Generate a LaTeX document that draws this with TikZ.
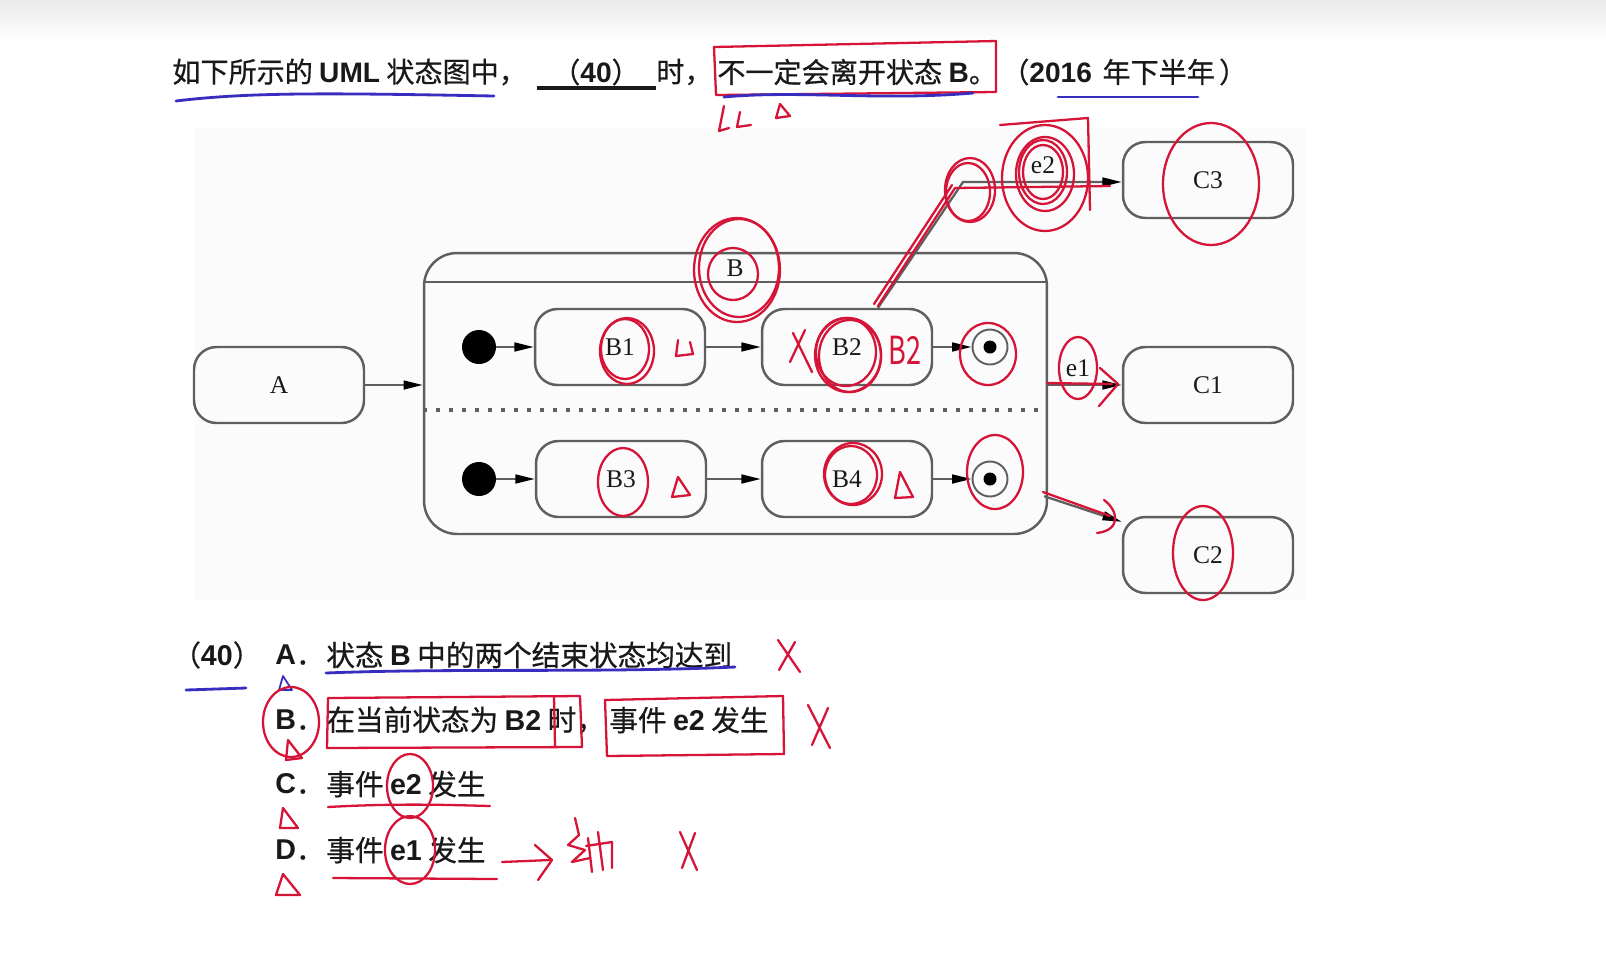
\documentclass[tikz,border=0pt]{standalone}
\usepackage{fontspec}
\setmainfont{Liberation Serif}
\newfontfamily\cjk{Noto Sans CJK SC}
\newfontfamily\cjkm[FakeBold=0.6]{Noto Sans CJK SC}
\newfontfamily\latf{Liberation Sans}
\newcommand\lb[1]{{\latf\bfseries #1}}
\usetikzlibrary{arrows.meta,calc}
\definecolor{diag}{RGB}{95,95,95}
\definecolor{txt}{RGB}{25,25,25}
\definecolor{pen}{RGB}{214,20,55}
\definecolor{bpen}{RGB}{55,45,190}
\definecolor{paper}{RGB}{251,251,251}
\newcommand\dlblfont{\fontsize{14.5}{17}\selectfont}
\newcommand\ttlfont{\cjkm\fontsize{16}{19}\selectfont}
\newcommand\optfont{\cjkm\fontsize{16.3}{19}\selectfont}
\begin{document}
\begin{tikzpicture}[x=0.02cm,y=-0.02cm,
  state/.style={draw=diag,line width=1.4pt,rounded corners=0.45cm,minimum width=3.4cm,minimum height=1.52cm,inner sep=0pt,font=\dlblfont,text=txt},
  lbl/.style={inner sep=0pt,font=\dlblfont,text=txt},
  initst/.style={circle,fill=black,minimum size=0.68cm,inner sep=0pt},
  finst/.style={circle,draw=diag,line width=1.1pt,minimum size=0.7cm,inner sep=0pt,
     path picture={\fill[black] (path picture bounding box.center) circle (0.13cm);}},
  tr/.style={draw=diag,line width=1.3pt,-{Triangle[length=11pt,width=5pt,color=black]}},
  tt/.style={inner sep=0pt,font=\ttlfont,text=txt,anchor=west},
  ot/.style={inner sep=0pt,font=\optfont,text=txt,anchor=west},
  pen/.style={draw=pen,line width=1.3pt,line cap=round,line join=round},
  bpen/.style={draw=bpen,line width=1.6pt,line cap=round,line join=round}]
\useasboundingbox (0,0) rectangle (1606,975);
\fill[white] (0,0) rectangle (1606,975);
\foreach \i in {0,...,9} {\fill[black,opacity=0.009] (0,0) rectangle (1606,{40-4*\i});}
\fill[paper] (195,128) rectangle (1305,600);

% ---------- title ----------
\node[tt] (t1) at (172,72) {如下所示的 \lb{UML} 状态图中，};
\node[tt,anchor=center] (t2) at (596,72) {（\lb{40}）};
\draw[txt,line width=1.8pt] (537,88) -- (656,88);
\node[tt] (t3) at (656,72) {时，};
\node[tt] (t4) at (717,72) {不一定会离开状态 \lb{B}。};
\node[tt] (t5) at (1001,72) {（\lb{2016}\hspace{0.15em} 年下半年\hspace{0.15em}）};

% ---------- diagram ----------
\node[state] (A) at (279,385) {A};
\node[draw=diag,line width=1.4pt,rounded corners=0.66cm,minimum width=12.46cm,minimum height=5.62cm,inner sep=0pt] (Bx) at (735.5,393.5) {};
\draw[draw=diag,line width=1.4pt] ($(Bx.north west)+(0,30)$) -- ($(Bx.north east)+(0,30)$);
\node[lbl] (Bl) at (735,268) {B};
\draw[draw=diag,line width=2pt,dash pattern=on 2.2pt off 5.2pt] (Bx.west |- 0,410) -- (Bx.east |- 0,410);

\node[initst] (I1) at (479,347) {};
\node[state] (B1) at (620,347) {B1};
\node[state] (B2) at (847,347) {B2};
\node[finst] (F1) at (990,347) {};
\node[initst] (I2) at (479,479) {};
\node[state] (B3) at (621,479) {B3};
\node[state] (B4) at (847,479) {B4};
\node[finst] (F2) at (990,479) {};

\node[state] (C3) at (1208,180) {C3};
\node[state] (C1) at (1208,385) {C1};
\node[state] (C2) at (1208,555) {C2};

\draw[tr] (A.east) -- (A.east -| Bx.west);
\draw[tr] (I1) -- (B1);
\draw[tr] (B1) -- (B2);
\draw[tr] (B2) -- (F1);
\draw[tr] (I2) -- (B3);
\draw[tr] (B3) -- (B4);
\draw[tr] (B4) -- (F2);
\coordinate (e2c) at (963,182);
\draw[tr] ($(B2.north)+(31,0)$) -- (e2c) -- (e2c -| C3.west);
\node[lbl] (e2) at (1043,165) {e2};
\draw[tr] (Bx.east |- C1) -- (C1.west);
\node[lbl] (e1) at (1078,368) {e1};
\draw[tr] ($(Bx.south east)+(-4,-39)$) -- ($(C2.north west)+(0,6)$);

% ---------- options ----------
\node[ot] (o0) at (172,655) {（\lb{40}）};
\node[ot] (oA) at (275,655) {\lb{A}．};
\node[ot] (oAt) at (326,655) {状态 \lb{B} 中的两个结束状态均达到};
\node[ot] (oB) at (275,720) {\lb{B}．};
\node[ot] (oBt) at (326,720) {在当前状态为 \lb{B2} 时，};
\node[ot] (oBu) at (609,720) {事件 \lb{e2} 发生};
\node[ot] (oC) at (275,784) {\lb{C}．};
\node[ot] (oCt) at (326,784) {事件 \lb{e2} 发生};
\node[ot] (oD) at (275,850) {\lb{D}．};
\node[ot] (oDt) at (326,850) {事件 \lb{e1} 发生};

% ---------- handwritten marks ----------
% title
\draw[pen] (714,47) -- (996,41) -- (996,92) -- (716,95) -- cycle;
\draw[bpen] (176,101) .. controls (250,92) and (330,93) .. (494,96);
\draw[bpen] (724,97) .. controls (800,90) and (880,101) .. (973,93);
\draw[bpen] (1058,97) -- (1198,97);
\draw[pen] (724,106) -- (719,131) -- (729,128);
\draw[pen] (740,112) -- (737,127) -- (751,125);
\draw[pen] (780,104) -- (776,118) -- (790,116) -- cycle;
% diagram
\draw[pen] (733,274) ellipse [x radius=25,y radius=26];
\draw[pen] (737,270) ellipse [x radius=43,y radius=52];
\draw[pen] (739,268) ellipse [x radius=40,y radius=49];
\draw[pen] (627,351) ellipse [x radius=27,y radius=33];
\draw[pen] (625,349) ellipse [x radius=24,y radius=30];
\draw[pen] (678,340) -- (676,356) -- (693,354) -- (690,342);
\draw[pen] (790,362) -- (805,330) (793,333) -- (812,372);
\draw[pen] (848,355) ellipse [x radius=33,y radius=37];
\draw[pen] (846,352) ellipse [x radius=30,y radius=34];
\draw[pen] (850,356) ellipse [x radius=31,y radius=36];
\node[text=pen,inner sep=0pt,xscale=0.7,font=\cjk\fontsize{22}{24}\selectfont] (hwB2) at (905,350) {B2};
\draw[pen] (988,354) ellipse [x radius=28,y radius=31];
\draw[pen] (878,306) -- (955,188) -- (1110,186);
\draw[pen] (874,304) -- (952,185);
\draw[pen] (970,190) ellipse [x radius=25,y radius=32];
\draw[pen] (968,192) ellipse [x radius=22,y radius=29];
\draw[pen] (1043,172) ellipse [x radius=20,y radius=27];
\draw[pen] (1043,172) ellipse [x radius=24,y radius=32];
\draw[pen] (1045,174) ellipse [x radius=29,y radius=37];
\draw[pen] (1045,178) ellipse [x radius=43,y radius=53];
\draw[pen] (1000,125) -- (1088,118) -- (1090,210);
\draw[pen] (1211,184) ellipse [x radius=48,y radius=61];
\draw[pen] (1078,368) ellipse [x radius=19,y radius=31];
\draw[pen] (1047,383) -- (1112,384);
\draw[pen] (1100,368) -- (1118,384) -- (1099,406);
\draw[pen] (623,482) ellipse [x radius=25,y radius=34];
\draw[pen] (678,477) -- (672,497) -- (690,495) -- cycle;
\draw[pen] (853,474) ellipse [x radius=29,y radius=31];
\draw[pen] (851,475) ellipse [x radius=26,y radius=29];
\draw[pen] (900,472) -- (895,498) -- (913,497) -- cycle;
\draw[pen] (995,472) ellipse [x radius=28,y radius=37];
\draw[pen] (1043,492) -- (1110,516);
\draw[pen] (1104,500) .. controls (1118,510) and (1122,530) .. (1097,533);
\draw[pen] (1203,553) ellipse [x radius=30,y radius=47];
% options
\draw[bpen] (326,673) .. controls (450,668) and (600,673) .. (735,667);
\draw[bpen] (186,690) -- (246,688);
\draw[bpen,line width=1pt] (283,676) -- (279,690) -- (292,690) -- cycle;
\draw[pen] (778,640) -- (800,672) (795,642) -- (779,670);
\draw[pen] (291,722) ellipse [x radius=28,y radius=35];
\draw[pen] (288,740) -- (286,760) -- (302,758) -- cycle;
\draw[pen] (328,698) -- (580,696) -- (582,747) -- (327,748) -- cycle;
\draw[pen] (554,696) -- (555,746);
\draw[pen] (605,700) -- (783,696) -- (784,754) -- (607,756) -- cycle;
\draw[pen] (808,705) -- (830,748) (828,708) -- (812,745);
\draw[pen] (410,786) ellipse [x radius=23,y radius=32];
\draw[pen] (328,807) .. controls (400,803) and (450,805) .. (490,806);
\draw[pen] (283,808) -- (280,828) -- (298,828) -- cycle;
\draw[pen] (410,850) ellipse [x radius=25,y radius=34];
\draw[pen] (333,878) -- (497,879);
\draw[pen] (283,874) -- (276,895) -- (300,895) -- cycle;
\draw[pen] (502,862) -- (550,860);
\draw[pen] (535,845) -- (552,860) -- (538,880);
\draw[pen] (575,818) -- (579,835) -- (568,845) -- (585,850) -- (572,862) -- (590,858);
\draw[pen] (588,838) -- (592,872) (598,832) -- (603,870) (586,846) -- (612,842) -- (612,868);
\draw[pen] (680,832) -- (697,870) (695,833) -- (682,868);
\end{tikzpicture}
\end{document}
